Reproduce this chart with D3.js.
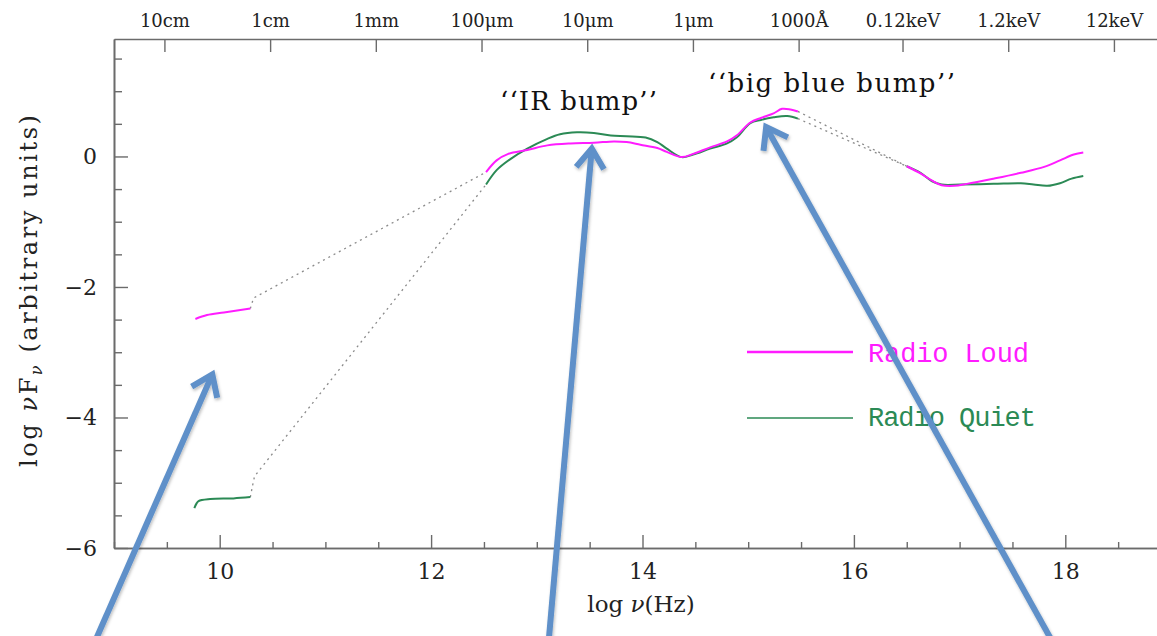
<!DOCTYPE html>
<html>
<head>
<meta charset="utf-8">
<script src="https://cdn.jsdelivr.net/npm/d3@7"></script>
<style>
  html, body { margin: 0; padding: 0; background: #fff; }
  svg { display: block; }
  text { font-family: "DejaVu Serif", serif; fill: #222; }
</style>
</head>
<body>
<svg id="chart"></svg>
<script>

// ---- DATA ----
// log nu (Hz), log nuFnu
const loudRadio = [[9.77,-2.49],[9.88,-2.43],[10.04,-2.39],[10.29,-2.33]];
const loudOptical = [[12.52,-0.24],[12.62,-0.06],[12.73,0.04],[12.91,0.10],[13.10,0.17],[13.32,0.20],
  [13.54,0.21],[13.73,0.23],[13.85,0.22],[13.98,0.18],[14.14,0.13],[14.23,0.07],[14.37,-0.01],
  [14.48,0.04],[14.64,0.14],[14.80,0.23],[14.89,0.32],[15.02,0.52],[15.12,0.59],[15.24,0.66],
  [15.32,0.73],[15.40,0.72],[15.47,0.69]];
const loudXray = [[16.50,-0.15],[16.63,-0.26],[16.74,-0.37],[16.83,-0.44],[16.95,-0.45],[17.07,-0.42],
  [17.32,-0.34],[17.58,-0.25],[17.80,-0.16],[17.95,-0.06],[18.08,0.03],[18.17,0.06]];

const quietRadio = [[9.76,-5.39],[9.78,-5.32],[9.80,-5.28],[9.91,-5.25],[10.13,-5.24],[10.29,-5.22]];
const quietOptical = [[12.52,-0.43],[12.62,-0.21],[12.75,-0.04],[12.91,0.12],[13.10,0.27],[13.22,0.34],
  [13.38,0.37],[13.54,0.36],[13.70,0.32],[13.85,0.31],[14.03,0.29],[14.14,0.22],[14.23,0.12],
  [14.37,-0.01],[14.48,0.03],[14.64,0.12],[14.80,0.20],[14.89,0.29],[15.02,0.51],[15.12,0.56],
  [15.24,0.60],[15.37,0.62],[15.47,0.58]];
const quietXray = [[16.50,-0.15],[16.63,-0.25],[16.74,-0.38],[16.83,-0.43],[17.01,-0.43],[17.32,-0.42],
  [17.58,-0.41],[17.70,-0.43],[17.83,-0.45],[17.95,-0.41],[18.06,-0.34],[18.17,-0.30]];

// dotted interpolations across the gaps
const gapLines = [
  [[10.29,-2.33],[10.32,-2.17],[12.52,-0.24]],
  [[10.29,-5.22],[10.31,-5.05],[10.33,-4.90],[12.52,-0.43]],
  [[15.47,0.69],[16.50,-0.15]],
  [[15.47,0.58],[16.50,-0.15]]
];

// top axis: wavelength / energy labels at their log frequency
const topTickValues = [9.477, 10.477, 11.477, 12.477, 13.477, 14.477, 15.477, 16.46, 17.46, 18.46];
const topTickLabels = ["10cm", "1cm", "1mm", "100\u03bcm", "10\u03bcm", "1\u03bcm", "1000\u00c5", "0.12keV", "1.2keV", "12keV"];

const xMajor = [10, 12, 14, 16, 18];
const yMajor = [-6, -4, -2, 0];

// annotation arrows: [tail, tip] in data units
const arrows = [
  [[8.81,-7.47],[9.93,-3.34]],
  [[13.11,-7.47],[13.52,0.12]],
  [[17.89,-7.47],[15.17,0.45]]
];

// ---- SETUP ----
const width = 1157, height = 636;
const pink = "#ff1cff", green = "#2b8a55", arrowBlue = "#5e90c9";

const svg = d3.select("#chart").attr("width", width).attr("height", height);

const xScale = d3.scaleLinear().domain([9, 19]).range([114, 1171]);
const yScale = d3.scaleLinear().domain([-6, 1.8]).range([548, 39]);

const xMinor = d3.range(9, 19.01, 0.5).filter(v => !xMajor.includes(v));
const yMinor = d3.range(-6, 1.81, 0.5).filter(v => !yMajor.includes(v));
const fmt = d => d < 0 ? "\u2212" + Math.abs(d) : String(d);

// ---- AXES ----
function styleAxis(g) {
  g.selectAll("path.domain").attr("stroke", "#6b6b6b").attr("stroke-width", 1.6);
  g.selectAll(".tick line").attr("stroke", "#6b6b6b").attr("stroke-width", 1.4);
  g.selectAll(".tick text").attr("fill", "#222").attr("font-family", "DejaVu Serif");
}

svg.append("g")
  .attr("transform", `translate(0, ${yScale(-6)})`)
  .call(d3.axisBottom(xScale).tickValues(xMinor).tickSize(-6).tickSizeOuter(0).tickFormat(""))
  .call(styleAxis);
svg.append("g")
  .attr("transform", `translate(0, ${yScale(-6)})`)
  .call(d3.axisBottom(xScale).tickValues(xMajor).tickSize(-13).tickSizeOuter(0).tickPadding(15))
  .attr("font-size", 22)
  .call(styleAxis);

svg.append("g")
  .attr("transform", `translate(${xScale(9)}, 0)`)
  .call(d3.axisLeft(yScale).tickValues(yMinor).tickSize(-8).tickSizeOuter(0).tickFormat(""))
  .call(styleAxis);
svg.append("g")
  .attr("transform", `translate(${xScale(9)}, 0)`)
  .call(d3.axisLeft(yScale).tickValues(yMajor).tickSize(-14).tickSizeOuter(0).tickPadding(17).tickFormat(fmt))
  .attr("font-size", 22)
  .call(styleAxis);

svg.append("g")
  .attr("transform", `translate(${xScale(19)}, 0)`)
  .call(d3.axisRight(yScale).tickValues(yMinor).tickSize(-8).tickSizeOuter(0).tickFormat(""))
  .call(styleAxis);
svg.append("g")
  .attr("transform", `translate(${xScale(19)}, 0)`)
  .call(d3.axisRight(yScale).tickValues(yMajor).tickSize(-14).tickSizeOuter(0).tickFormat(""))
  .call(styleAxis);

svg.append("g")
  .attr("transform", `translate(0, ${yScale(1.8)})`)
  .call(d3.axisTop(xScale).tickValues(topTickValues).tickSize(-13).tickSizeOuter(0).tickPadding(12)
    .tickFormat((d, i) => topTickLabels[i]))
  .attr("font-size", 18)
  .call(styleAxis);

// ---- AXIS TITLES ----
const xTitle = svg.append("text")
  .attr("x", 641).attr("y", 612)
  .attr("text-anchor", "middle")
  .attr("font-size", 23);
xTitle.append("tspan").text("log  ");
xTitle.append("tspan").attr("font-style", "italic").text("\u03bd");
xTitle.append("tspan").text("(Hz)");

const yTitle = svg.append("text")
  .attr("transform", "translate(37, 291) rotate(-90)")
  .attr("text-anchor", "middle")
  .attr("font-size", 24)
  .attr("textLength", 352)
  .attr("lengthAdjust", "spacing");
yTitle.append("tspan").text("log ");
yTitle.append("tspan").attr("font-style", "italic").text("\u03bd");
yTitle.append("tspan").text("F");
yTitle.append("tspan").attr("font-style", "italic").attr("font-size", 16).attr("dy", 5).text("\u03bd");
yTitle.append("tspan").attr("dy", -5).text(" (arbitrary units)");

// ---- LINES ----
const lineGen = d3.line()
  .x(d => xScale(d[0]))
  .y(d => yScale(d[1]))
  .curve(d3.curveCatmullRom.alpha(0.5));

svg.selectAll(".gap")
  .data(gapLines)
  .join("path")
  .attr("class", "gap")
  .attr("fill", "none")
  .attr("stroke", "#8a8a8a")
  .attr("stroke-width", 1.3)
  .attr("stroke-dasharray", "2,4")
  .attr("d", d => d3.line().x(p => xScale(p[0])).y(p => yScale(p[1]))(d));

svg.selectAll(".quiet")
  .data([quietRadio, quietOptical, quietXray])
  .join("path")
  .attr("class", "quiet")
  .attr("fill", "none")
  .attr("stroke", green)
  .attr("stroke-width", 2)
  .attr("d", d => lineGen(d));

svg.selectAll(".loud")
  .data([loudRadio, loudOptical, loudXray])
  .join("path")
  .attr("class", "loud")
  .attr("fill", "none")
  .attr("stroke", pink)
  .attr("stroke-width", 2)
  .attr("d", d => lineGen(d));

// ---- LEGEND ----
const legend = svg.append("g");
legend.append("line").attr("x1", 747).attr("x2", 853).attr("y1", 352).attr("y2", 352)
  .attr("stroke", pink).attr("stroke-width", 2.4);
legend.append("text").attr("x", 868).attr("y", 362).attr("font-size", 27)
  .attr("textLength", 161).attr("lengthAdjust", "spacing")
  .style("font-family", "Liberation Mono").style("fill", pink).text("Radio Loud");
legend.append("line").attr("x1", 747).attr("x2", 853).attr("y1", 418).attr("y2", 418)
  .attr("stroke", green).attr("stroke-width", 1.5);
legend.append("text").attr("x", 868).attr("y", 426).attr("font-size", 27)
  .attr("textLength", 168).attr("lengthAdjust", "spacing")
  .style("font-family", "Liberation Mono").style("fill", green).text("Radio Quiet");

// ---- ANNOTATIONS ----
svg.append("text").attr("x", 500).attr("y", 110).attr("font-size", 26)
  .attr("textLength", 157).attr("lengthAdjust", "spacing")
  .style("fill", "#111")
  .text("\u2018\u2018IR bump\u2019\u2019");
svg.append("text").attr("x", 708).attr("y", 92).attr("font-size", 26)
  .attr("textLength", 247).attr("lengthAdjust", "spacing")
  .style("fill", "#111")
  .text("\u2018\u2018big blue bump\u2019\u2019");

// arrows
const defs = svg.append("defs");
defs.append("filter").attr("id", "shadow")
  .attr("x", "-20%").attr("y", "-20%").attr("width", "140%").attr("height", "140%")
  .append("feDropShadow")
  .attr("dx", 1).attr("dy", 2).attr("stdDeviation", 1.5)
  .attr("flood-color", "#000").attr("flood-opacity", 0.25);

const arrowG = svg.append("g").attr("filter", "url(#shadow)");
arrows.forEach(([tail, tip]) => {
  const x0 = xScale(tail[0]), y0 = yScale(tail[1]);
  const x1 = xScale(tip[0]), y1 = yScale(tip[1]);
  const ang = Math.atan2(y1 - y0, x1 - x0);
  const armLen = 24, spread = 0.62;
  const a1 = [x1 - armLen * Math.cos(ang - spread), y1 - armLen * Math.sin(ang - spread)];
  const a2 = [x1 - armLen * Math.cos(ang + spread), y1 - armLen * Math.sin(ang + spread)];
  arrowG.append("line")
    .attr("x1", x0).attr("y1", y0)
    .attr("x2", x1 - 3 * Math.cos(ang)).attr("y2", y1 - 3 * Math.sin(ang))
    .attr("stroke", arrowBlue).attr("stroke-width", 6);
  arrowG.append("path")
    .attr("d", `M${a1[0]},${a1[1]}L${x1},${y1}L${a2[0]},${a2[1]}`)
    .attr("fill", "none")
    .attr("stroke", arrowBlue).attr("stroke-width", 6)
    .attr("stroke-linejoin", "miter").attr("stroke-linecap", "butt");
});

</script>
</body>
</html>
